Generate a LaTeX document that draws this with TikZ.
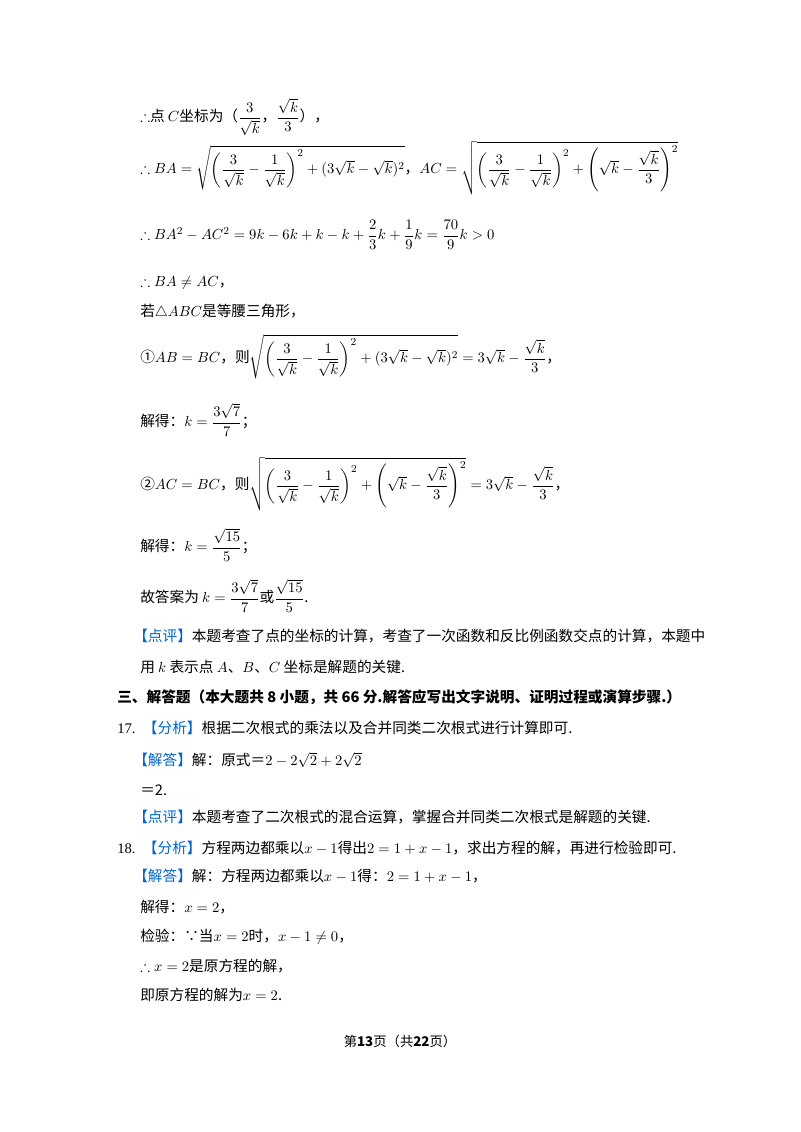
\documentclass[tikz,border=0pt]{standalone}
\usepackage{amsmath,amssymb}
\usepackage{fontspec}
\setmainfont{Liberation Serif}
\newfontfamily\cjk{Noto Sans CJK SC}
\newcommand{\cm}{{\cjk ，}}
\newcommand{\sm}{{\cjk ；}}
\definecolor{tagblue}{RGB}{0,102,204}
\begin{document}
\begin{tikzpicture}[x=0.75pt,y=-0.75pt,
  ln/.style={anchor=west,inner sep=0pt,font=\fontsize{11}{13}\selectfont},
  tag/.style={text=tagblue}]
\useasboundingbox[fill=white] (0,0) rectangle (800,1132);
\node[ln] (l1) at (140,117) {$\therefore$\cjk{点} $C$\cjk{坐标为（}$\dfrac{3}{\sqrt{k}}$\cm$\dfrac{\sqrt{k}}{3}$\cjk{），}};
\node[ln] (l2) at (140,168) {$\therefore BA=\sqrt{\left(\dfrac{3}{\sqrt{k}}-\dfrac{1}{\sqrt{k}}\right)^2+(3\sqrt{k}-\sqrt{k})^2}$\cm$AC=\sqrt{\left(\dfrac{3}{\sqrt{k}}-\dfrac{1}{\sqrt{k}}\right)^2+\left(\sqrt{k}-\dfrac{\sqrt{k}}{3}\right)^2}$};
\node[ln] (l3) at (140,235) {$\therefore BA^2-AC^2=9k-6k+k-k+\dfrac{2}{3}k+\dfrac{1}{9}k=\dfrac{70}{9}k>0$};
\node[ln] (l4) at (140,283) {$\therefore BA\neq AC$\cm};
\node[ln] (l5) at (140,312) {\cjk{若}$\triangle ABC$\cjk{是等腰三角形，}};
\node[ln] (l6) at (140,357) {\cjk{①}$AB=BC$\cm\cjk{则}$\sqrt{\left(\dfrac{3}{\sqrt{k}}-\dfrac{1}{\sqrt{k}}\right)^2+(3\sqrt{k}-\sqrt{k})^2}=3\sqrt{k}-\dfrac{\sqrt{k}}{3}$\cm};
\node[ln] (l7) at (140,420) {\cjk{解得：}$k=\dfrac{3\sqrt{7}}{7}$\sm};
\node[ln] (l8) at (140,484) {\cjk{②}$AC=BC$\cm\cjk{则}$\sqrt{\left(\dfrac{3}{\sqrt{k}}-\dfrac{1}{\sqrt{k}}\right)^2+\left(\sqrt{k}-\dfrac{\sqrt{k}}{3}\right)^2}=3\sqrt{k}-\dfrac{\sqrt{k}}{3}$\cm};
\node[ln] (l9) at (140,545) {\cjk{解得：}$k=\dfrac{\sqrt{15}}{5}$\sm};
\node[ln] (l10) at (140,596) {\cjk{故答案为} $k=\dfrac{3\sqrt{7}}{7}$\cjk{或}$\dfrac{\sqrt{15}}{5}$.};
\node[ln] (l11) at (133,636) {\cjk{\textcolor{tagblue}{【点评】}本题考查了点的坐标的计算，考查了一次函数和反比例函数交点的计算，本题中}};
\node[ln] (l12) at (140,667) {\cjk{用} $k$ \cjk{表示点} $A$\cjk{、}$B$\cjk{、}$C$ \cjk{坐标是解题的关键}.};
\node[ln] (l13) at (117,697) {\cjk{\bfseries 三、解答题（本大题共 8 小题，共 66 分.解答应写出文字说明、证明过程或演算步骤.）}};
\node[ln] (l14) at (117,728) {17.\ \ \cjk{\textcolor{tagblue}{【分析】}根据二次根式的乘法以及合并同类二次根式进行计算即可}.};
\node[ln] (l15) at (133,760) {\cjk{\textcolor{tagblue}{【解答】}解：原式＝}$2-2\sqrt{2}+2\sqrt{2}$};
\node[ln] (l16) at (140,790) {\cjk{＝}2.};
\node[ln] (l17) at (133,817) {\cjk{\textcolor{tagblue}{【点评】}本题考查了二次根式的混合运算，掌握合并同类二次根式是解题的关键}.};
\node[ln] (l18) at (117,848) {18.\ \ \cjk{\textcolor{tagblue}{【分析】}方程两边都乘以}$x-1$\cjk{得出}$2=1+x-1$\cjk{，求出方程的解，再进行检验即可}.};
\node[ln] (l19) at (133,876) {\cjk{\textcolor{tagblue}{【解答】}解：方程两边都乘以}$x-1$\cjk{得：}$2=1+x-1$\cm};
\node[ln] (l20) at (140,907) {\cjk{解得：}$x=2$\cm};
\node[ln] (l21) at (140,937) {\cjk{检验：∵当}$x=2$\cjk{时，}$x-1\neq 0$\cm};
\node[ln] (l22) at (140,966) {$\therefore x=2$\cjk{是原方程的解，}};
\node[ln] (l23) at (140,995) {\cjk{即原方程的解为}$x=2$.};
\node[anchor=center,inner sep=0pt,font=\fontsize{10}{12}\selectfont] (ft) at (400,1041) {\cjk{第\textbf{13}页（共\textbf{22}页）}};
\end{tikzpicture}
\end{document}
